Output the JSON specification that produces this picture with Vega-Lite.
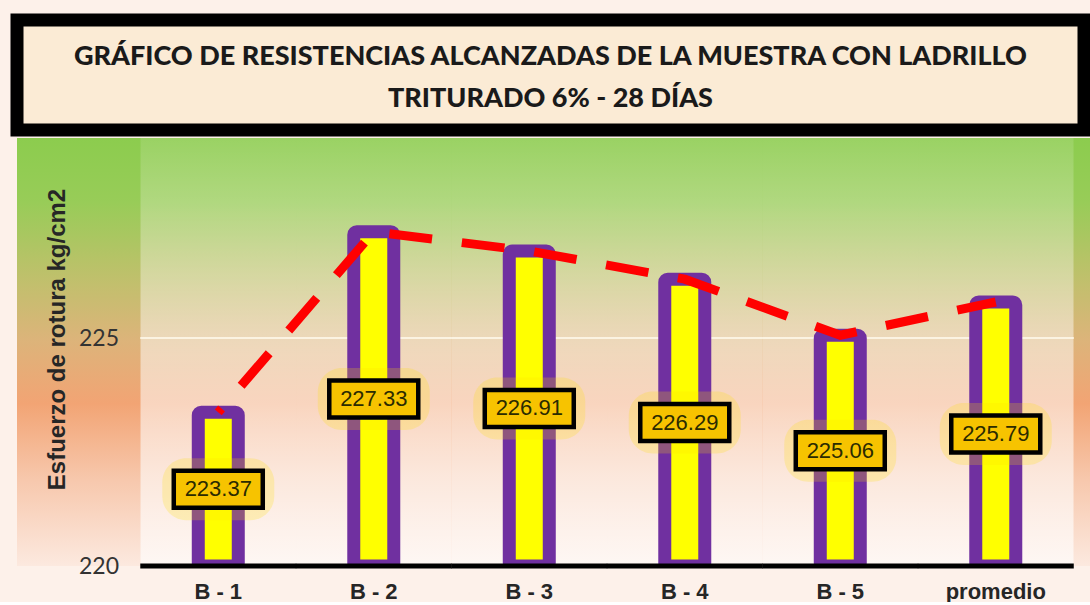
{
  "$schema": "https://vega.github.io/schema/vega-lite/v6.json",
  "padding": {"left": 10, "top": 13, "right": 0, "bottom": 0},
  "background": "#fdf1ea",
  "spacing": 1,
  "config": {"view": {"stroke": null}},
  "datasets": {
    "vals": [
      {"muestra": "B - 1", "valor": 223.37},
      {"muestra": "B - 2", "valor": 227.33},
      {"muestra": "B - 3", "valor": 226.91},
      {"muestra": "B - 4", "valor": 226.29},
      {"muestra": "B - 5", "valor": 225.06},
      {"muestra": "promedio", "valor": 225.79}
    ],
    "titulo": [
      {"linea": 1, "texto": "GRÁFICO DE RESISTENCIAS ALCANZADAS DE LA MUESTRA CON LADRILLO"},
      {"linea": 2, "texto": "TRITURADO 6% - 28 DÍAS"}
    ],
    "fondo": [{}]
  },
  "vconcat": [
    {
      "width": 1067,
      "height": 110,
      "view": {"fill": "#fbebd5", "stroke": "#000000", "strokeWidth": 13},
      "data": {"name": "titulo"},
      "mark": {"type": "text", "font": "Lato", "fontWeight": 900, "fontSize": 27, "color": "#1a1a1a"},
      "encoding": {
        "y": {"field": "linea", "type": "ordinal", "scale": {"type": "point", "padding": 0.841, "align": 0.5435}, "axis": null},
        "text": {"field": "texto"}
      }
    },
    {
      "width": 1074,
      "height": 428,
      "layer": [
        {
          "layer": [
            {
              "data": {"name": "fondo"},
              "mark": {"type": "rect", "color": {"gradient": "linear", "x1": 0, "y1": 0, "x2": 0, "y2": 1, "stops": [
                {"offset": 0, "color": "#8ccc4e"},
                {"offset": 0.15, "color": "#98cc58"},
                {"offset": 0.33, "color": "#c0c06c"},
                {"offset": 0.47, "color": "#dcb47a"},
                {"offset": 0.62, "color": "#f2a474"},
                {"offset": 0.8, "color": "#f7c8ad"},
                {"offset": 1, "color": "#fce9df"}
              ]}}
            },
            {
              "data": {"name": "vals"},
              "mark": {"type": "bar", "width": {"band": 1}, "color": {"gradient": "linear", "x1": 0, "y1": 0, "x2": 0, "y2": 1, "stops": [
                {"offset": 0, "color": "rgba(255,255,255,0.12)"},
                {"offset": 0.3, "color": "rgba(255,255,255,0.35)"},
                {"offset": 0.5, "color": "rgba(255,255,255,0.5)"},
                {"offset": 1, "color": "rgba(255,255,255,0.65)"}
              ]}},
              "encoding": {
                "x": {"field": "muestra", "type": "nominal", "sort": null},
                "y": {"datum": 229.386},
                "y2": {"datum": 220}
              }
            },
            {
              "data": {"name": "vals"},
              "mark": {"type": "tick", "size": 156, "thickness": 2, "color": "#fbf3e2", "opacity": 1},
              "encoding": {
                "x": {"field": "muestra", "type": "nominal", "sort": null},
                "y": {"datum": 225}
              }
            },
            {
              "data": {"name": "vals"},
              "mark": {"type": "bar", "size": 40, "fill": "#ffff00", "stroke": "#7030a0", "strokeWidth": 13, "cornerRadius": 3, "clip": true},
              "encoding": {
                "x": {
                  "field": "muestra", "type": "nominal", "sort": null,
                  "scale": {"paddingInner": 0, "paddingOuter": 0.4534, "align": 0.876},
                  "axis": {"title": null, "domain": false, "ticks": false, "labelAngle": 0, "labelAlign": "center", "labelFont": "Liberation Sans", "labelFontWeight": "bold", "labelFontSize": 22, "labelColor": "#262626", "labelPadding": 25, "zindex": 2}
                },
                "y": {
                  "field": "valor", "type": "quantitative",
                  "scale": {"domain": [220, 229.386], "nice": false, "zero": false},
                  "axis": {"title": "Esfuerzo de rotura kg/cm2", "values": [220, 225], "grid": false, "domain": false, "ticks": false, "offset": -123.5, "zindex": 2, "labelFont": "Lato", "labelFontSize": 23, "labelColor": "#333333", "labelPadding": 22, "titleFont": "Liberation Sans", "titleFontWeight": "bold", "titleFontSize": 24, "titleColor": "#262626", "titleX": -83, "titleY": 201, "titleAngle": -90, "titleBaseline": "middle", "titleAlign": "center"}
                },
                "y2": {"datum": 220}
              }
            },
            {
              "data": {"name": "vals"},
              "mark": {"type": "tick", "size": 156, "thickness": 5, "color": "#000000", "opacity": 1},
              "encoding": {
                "x": {"field": "muestra", "type": "nominal", "sort": null},
                "y": {"datum": 220}
              }
            },
            {
              "data": {"name": "vals"},
              "mark": {"type": "line", "color": "#ff0000", "strokeWidth": 9, "strokeDash": [43, 30], "strokeDashOffset": 38, "strokeCap": "butt"},
              "encoding": {
                "x": {"field": "muestra", "type": "nominal", "sort": null},
                "y": {"field": "valor", "type": "quantitative"}
              }
            }
          ]
        },
        {
          "data": {"name": "vals"},
          "encoding": {
            "x": {"field": "muestra", "type": "nominal", "sort": null},
            "y": {"field": "valor", "type": "quantitative", "scale": {"domain": [220, 238.772], "nice": false, "zero": false}, "axis": null}
          },
          "layer": [
            {"mark": {"type": "tick", "size": 112, "thickness": 62, "color": "#ffe000", "opacity": 0.22, "cornerRadius": 24}},
            {"mark": {"type": "tick", "size": 89, "thickness": 37, "fill": "#f7c300", "stroke": "#000000", "strokeWidth": 4.5, "opacity": 1}},
            {
              "mark": {"type": "text", "font": "Liberation Sans", "fontSize": 22, "color": "#2b2b00"},
              "encoding": {"text": {"field": "valor", "type": "quantitative", "format": ".2f"}}
            }
          ]
        }
      ],
      "resolve": {"scale": {"y": "independent"}}
    }
  ]
}
